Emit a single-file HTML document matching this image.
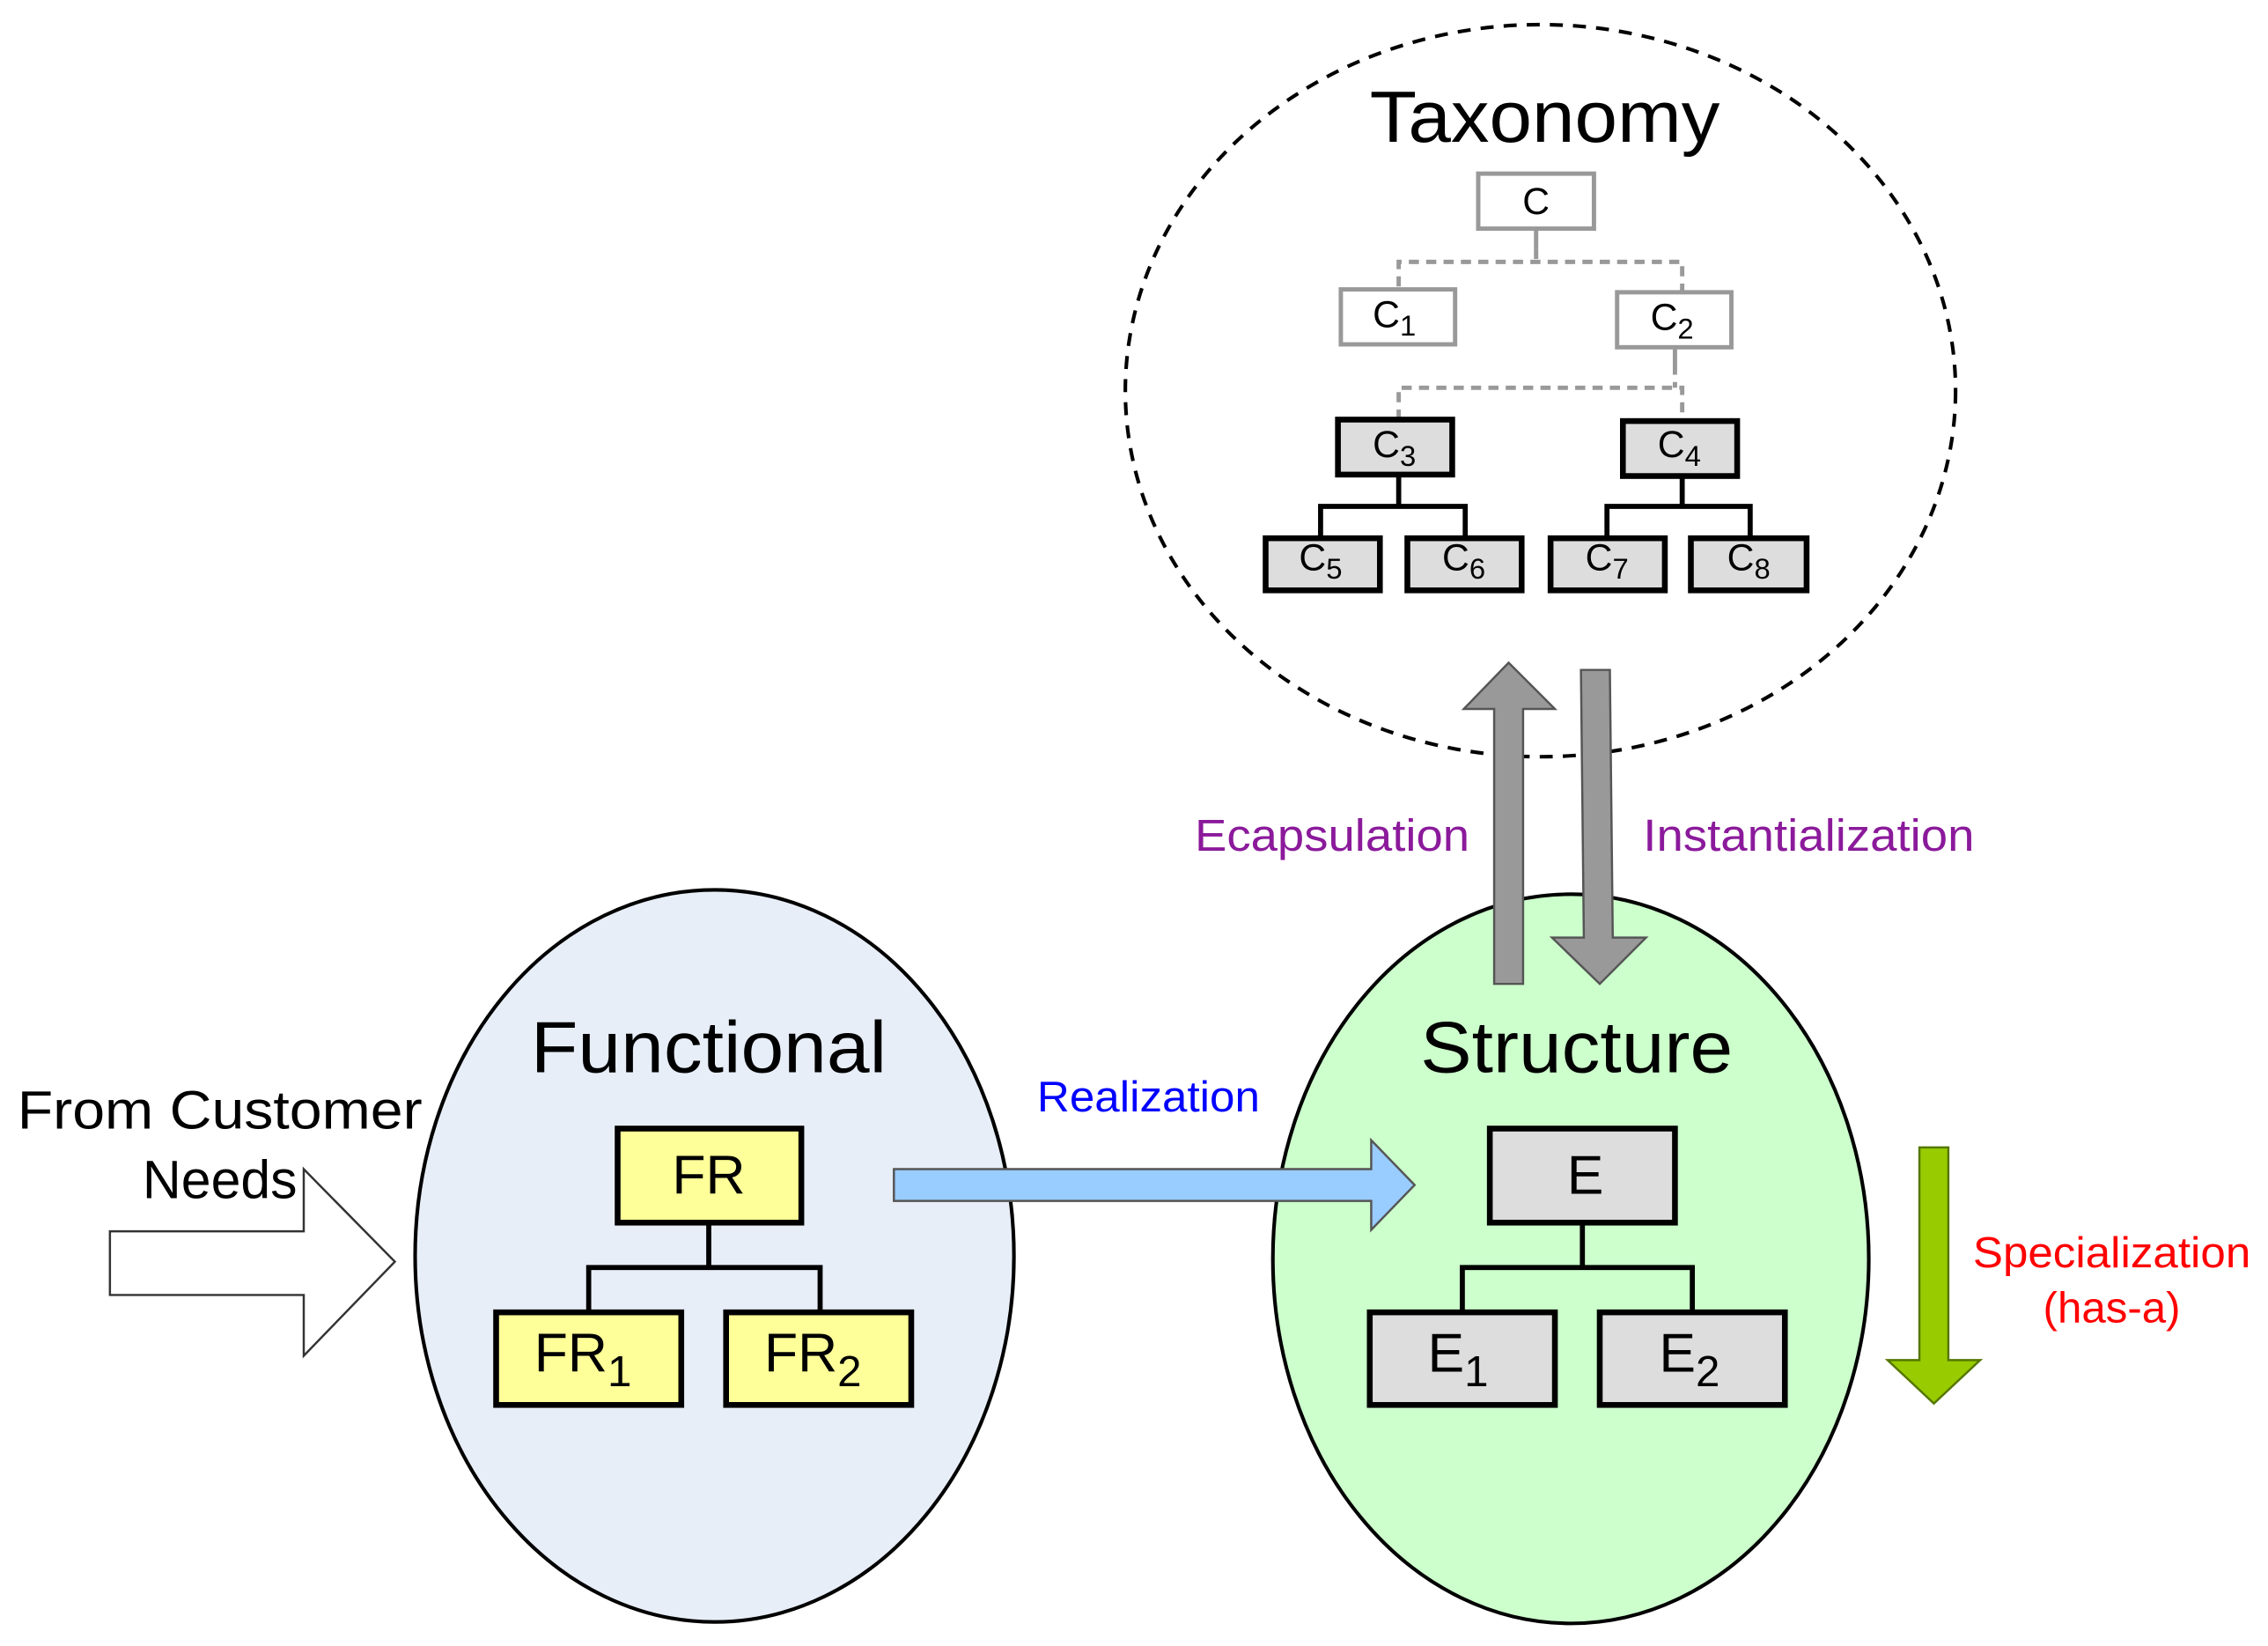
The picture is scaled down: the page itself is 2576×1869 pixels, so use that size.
<!DOCTYPE html>
<html><head><meta charset="utf-8"><style>html,body{margin:0;padding:0;background:#fff}svg{display:block}</style></head>
<body>
<svg width="2576" height="1869" viewBox="0 0 1568 1137.6" preserveAspectRatio="none" xmlns="http://www.w3.org/2000/svg" font-family="Liberation Sans, Arial, sans-serif">
<rect width="1568" height="1138" fill="#fff"/>
<!-- Taxonomy -->
<ellipse cx="1065" cy="270" rx="287" ry="253" fill="none" stroke="#000" stroke-width="2.5" stroke-dasharray="9,7"/>
<text x="1068" y="98" font-size="50" text-anchor="middle" textLength="242" lengthAdjust="spacingAndGlyphs">Taxonomy</text>
<g stroke="#999" stroke-width="3" fill="none">
<line x1="1062" y1="158" x2="1062" y2="172"/>
<line x1="1158" y1="240" x2="1158" y2="252"/>
</g>
<g stroke="#999" stroke-width="3" fill="none" stroke-dasharray="7,5">
<polyline points="967,198 967,181 1163,181 1163,202"/>
<line x1="1062" y1="172" x2="1062" y2="181"/>
<polyline points="967,290 967,268 1163,268 1163,291"/>
<line x1="1158" y1="252" x2="1158" y2="268"/>
</g>
<g stroke="#999" stroke-width="3" fill="#fff">
<rect x="1022" y="120" width="80" height="38"/>
<rect x="927" y="200" width="79" height="38"/>
<rect x="1118" y="202" width="79" height="38"/>
</g>
<g font-size="26" text-anchor="middle">
<text x="1062" y="148">C</text>
<text x="964" y="226">C<tspan font-size="20" dy="6">1</tspan></text>
<text x="1156" y="228">C<tspan font-size="20" dy="6">2</tspan></text>
</g>
<g stroke="#000" stroke-width="3.5" fill="none">
<polyline points="967,328 967,350"/><polyline points="913,373 913,350 1013,350 1013,373"/>
<polyline points="1163,329 1163,350"/><polyline points="1111,373 1111,350 1210,350 1210,373"/>
</g>
<g stroke="#000" stroke-width="4" fill="#ddd">
<rect x="925" y="290" width="79" height="38"/>
<rect x="1122" y="291" width="79" height="38"/>
<rect x="875" y="372" width="79" height="36"/>
<rect x="973" y="372" width="79" height="36"/>
<rect x="1072" y="372" width="79" height="36"/>
<rect x="1169" y="372" width="80" height="36"/>
</g>
<g font-size="26" text-anchor="middle">
<text x="964" y="316">C<tspan font-size="20" dy="6">3</tspan></text>
<text x="1161" y="316">C<tspan font-size="20" dy="6">4</tspan></text>
<text x="913" y="394">C<tspan font-size="20" dy="6">5</tspan></text>
<text x="1012" y="394">C<tspan font-size="20" dy="6">6</tspan></text>
<text x="1111" y="394">C<tspan font-size="20" dy="6">7</tspan></text>
<text x="1209" y="394">C<tspan font-size="20" dy="6">8</tspan></text>
</g>
<!-- Functional -->
<ellipse cx="494" cy="868" rx="207" ry="253" fill="#e8eef8" stroke="#000" stroke-width="2.5"/>
<text x="490" y="741" font-size="50" text-anchor="middle" textLength="246" lengthAdjust="spacingAndGlyphs">Functional</text>
<g stroke="#000" stroke-width="3.5" fill="none">
<line x1="490" y1="845" x2="490" y2="876"/><polyline points="407,907 407,876 567,876 567,907"/>
</g>
<g stroke="#000" stroke-width="4" fill="#ffff99">
<rect x="427" y="780" width="127" height="65"/>
<rect x="343" y="907" width="128" height="64"/>
<rect x="502" y="907" width="128" height="64"/>
</g>
<g font-size="38" text-anchor="middle">
<text x="490" y="825">FR</text>
<text x="403" y="948">FR<tspan font-size="30" dy="10">1</tspan></text>
<text x="562" y="948">FR<tspan font-size="30" dy="10">2</tspan></text>
</g>
<!-- Structure -->
<ellipse cx="1086" cy="870" rx="206" ry="252" fill="#ccffcc" stroke="#000" stroke-width="2.5"/>
<text x="1090" y="741" font-size="50" text-anchor="middle" textLength="216" lengthAdjust="spacingAndGlyphs">Structure</text>
<g stroke="#000" stroke-width="3.5" fill="none">
<line x1="1094" y1="845" x2="1094" y2="876"/><polyline points="1011,907 1011,876 1170,876 1170,907"/>
</g>
<g stroke="#000" stroke-width="4" fill="#ddd">
<rect x="1030" y="780" width="128" height="65"/>
<rect x="947" y="907" width="128" height="64"/>
<rect x="1106" y="907" width="128" height="64"/>
</g>
<g font-size="38" text-anchor="middle">
<text x="1096" y="825">E</text>
<text x="1008" y="948">E<tspan font-size="30" dy="10">1</tspan></text>
<text x="1168" y="948">E<tspan font-size="30" dy="10">2</tspan></text>
</g>
<!-- vertical gray arrows -->
<polygon points="1033,680 1053,680 1053,490 1075,490 1043,458 1012,490 1033,490" fill="#999" stroke="#555" stroke-width="1.5"/>
<polygon points="1093,463 1113,463 1115,648 1138,648 1106,680 1073,648 1095,648" fill="#999" stroke="#555" stroke-width="1.5"/>
<text x="826" y="588" font-size="31" fill="#8b1a9b" textLength="190" lengthAdjust="spacingAndGlyphs">Ecapsulation</text>
<text x="1136" y="588" font-size="31" fill="#8b1a9b" textLength="229" lengthAdjust="spacingAndGlyphs">Instantialization</text>
<!-- Realization -->
<polygon points="618,808 948,808 948,788 978,819 948,850 948,830 618,830" fill="#99ccff" stroke="#555" stroke-width="1.5"/>
<text x="794" y="768" font-size="30" fill="#0000ff" text-anchor="middle" textLength="154" lengthAdjust="spacingAndGlyphs">Realization</text>
<!-- customer -->
<polygon points="76,851 210,851 210,808 273,872 210,937 210,895 76,895" fill="#fff" stroke="#333" stroke-width="1.5"/>
<text x="12" y="780" font-size="37" textLength="280" lengthAdjust="spacingAndGlyphs">From Customer</text>
<text x="152" y="828" font-size="37" text-anchor="middle">Needs</text>
<!-- Specialization -->
<polygon points="1327,793 1347,793 1347,940 1369,940 1337,970 1305,940 1327,940" fill="#99cc00" stroke="#557700" stroke-width="1.5"/>
<text x="1460" y="876" font-size="30" fill="#ff0000" text-anchor="middle" textLength="192" lengthAdjust="spacingAndGlyphs">Specialization</text>
<text x="1460" y="914" font-size="30" fill="#ff0000" text-anchor="middle">(has-a)</text>
</svg>
</body></html>
